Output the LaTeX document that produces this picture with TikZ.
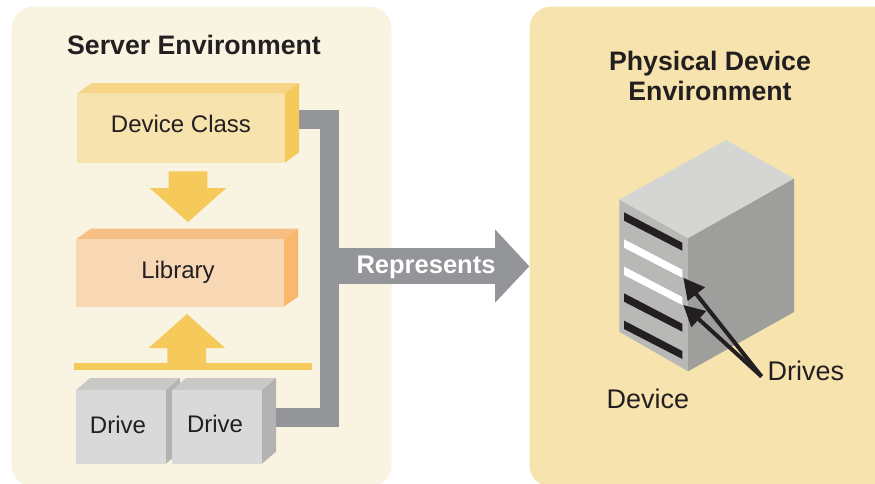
\documentclass[tikz,border=0pt]{standalone}
\usepackage{fontspec}
\setmainfont{Liberation Sans}
\usetikzlibrary{arrows.meta}
\definecolor{ink}{HTML}{231F20}
\definecolor{panelL}{HTML}{F9F3E1}
\definecolor{panelR}{HTML}{F7E3AE}
\definecolor{gold}{HTML}{F5CA5B}
\definecolor{goldTop}{HTML}{F6D588}
\definecolor{libF}{HTML}{F8D7B5}
\definecolor{libT}{HTML}{F6BF85}
\definecolor{libR}{HTML}{F8B96F}
\definecolor{drvF}{HTML}{D9D9D9}
\definecolor{drvT}{HTML}{C8C8C6}
\definecolor{drvR}{HTML}{B3B3B1}
\definecolor{srvT}{HTML}{D5D5D4}
\definecolor{srvL}{HTML}{B8B8B7}
\definecolor{srvR}{HTML}{9E9E9D}
\definecolor{bar}{HTML}{939598}
\tikzset{
  x=1pt,y=-1pt,
  label24/.style={text=ink,inner sep=0pt,anchor=base,font=\fontsize{24}{28}\selectfont},
  label27/.style={text=ink,inner sep=0pt,anchor=base,font=\fontsize{27}{30}\selectfont},
  title/.style={text=ink,inner sep=0pt,font=\bfseries\fontsize{26.7}{30}\selectfont,align=center},
  connector/.style={draw=bar,line width=18.7pt,line join=miter},
  slot/.style={fill=ink},
  lit/.style={fill=white},
  pointer/.style={draw=ink,line width=4pt,-{Triangle[length=21pt,width=21pt]}}
}
\begin{document}
\begin{tikzpicture}
\useasboundingbox (0,0) rectangle (875,483);
\clip (0,0) rectangle (875,483);
% panels
\fill[panelL,rounded corners=22pt] (11.5,6.5) rectangle (391.5,487);
\fill[panelR,rounded corners=22pt] (529.5,6.5) rectangle (900,487);
\node[title] (srvtitle) at (194,45) {Server Environment};
\node[title] (phytitle) at (710,76) {Physical Device\\Environment};

% connector coordinates
\coordinate (classOut) at (299,119.4);
\coordinate (driveOut) at (276,417.3);
\coordinate (bend1) at (329.6,119.4);
\coordinate (bend2) at (329.6,417.3);
\coordinate (tee) at (329.6,266);
\coordinate (repStem) at (496,266);
\draw[connector] (classOut) -- (bend1) -- (bend2) -- (driveOut);
\draw[bar,line width=36.7pt] (tee) -- (repStem);
\fill[bar] (495,229.3) -- (529.3,266.3) -- (495,302.7) -- cycle;
\node[inner sep=0pt,anchor=base,text=white,font=\bfseries\fontsize{25.5}{28}\selectfont] (rep) at (426,273) {Represents};

% Device Class
\fill[goldTop] (77,93.7) -- (91.7,83) -- (299,83) -- (285,93.7) -- cycle;
\fill[gold] (285,93.7) -- (299,83) -- (299,152.3) -- (285,162.7) -- cycle;
\fill[panelR] (77,93.7) rectangle (285,162.7);
\node[label24] (class) at (181,132) {Device Class};

% down arrow
\fill[gold] (168.7,171.3) -- (207.3,171.3) -- (207.3,188) -- (226.3,188) -- (188,222) -- (149.7,188) -- (168.7,188) -- cycle;

% Library
\fill[libT] (76,239.3) -- (90.7,228.7) -- (298,228.7) -- (283.7,239.3) -- cycle;
\fill[libR] (283.7,239.3) -- (298,228.7) -- (298,296.7) -- (283.7,306.7) -- cycle;
\fill[libF] (76,239.3) rectangle (283.7,306.7);
\node[label24] (lib) at (178,278) {Library};

% up arrow and bar
\fill[gold] (187,314) -- (225,348) -- (206,348) -- (206,364) -- (167.3,364) -- (167.3,348) -- (148.7,348) -- cycle;
\fill[gold] (74,363) rectangle (312,370);

% Drives
\fill[drvT] (76,390.3) -- (90,378) -- (180,378) -- (166,390.3) -- cycle;
\fill[drvR] (166,390.3) -- (180,378) -- (180,451.7) -- (166,463.7) -- cycle;
\fill[drvF] (76,390.3) rectangle (166,463.7);
\node[label24] (drive1) at (118,433.5) {Drive};
\fill[drvT] (172,390.3) -- (186,378) -- (276,378) -- (262,390.3) -- cycle;
\fill[drvR] (262,390.3) -- (276,378) -- (276,451.7) -- (262,463.7) -- cycle;
\fill[drvF] (172,390.3) rectangle (262,463.7);
\node[label24] (drive2) at (215,432) {Drive};

% Server box
\fill[srvT] (619.3,199.7) -- (726,140) -- (794,178.7) -- (688,238.3) -- cycle;
\fill[srvL] (619.3,199.7) -- (688,238.3) -- (688,371.3) -- (619.3,331.7) -- cycle;
\fill[srvR] (688,238.3) -- (794,178.7) -- (794,312) -- (688,371.3) -- cycle;
\fill[slot] (624,212.3) -- (682.3,242.7) -- (682.3,250.7) -- (624,220.7) -- cycle;
\fill[lit] (624,239.3) -- (682.3,269.7) -- (682.3,277.7) -- (624,247.7) -- cycle;
\fill[lit] (624,266.6) -- (682.3,297) -- (682.3,305) -- (624,275) -- cycle;
\fill[slot] (624,293.3) -- (682.3,323.7) -- (682.3,331.7) -- (624,301.7) -- cycle;
\fill[slot] (624,320.6) -- (682.3,351) -- (682.3,359) -- (624,329) -- cycle;

\node[label27] (device) at (648,408.5) {Device};
\node[label27,anchor=base west] (drives) at (767.5,380.5) {Drives};
\coordinate (ptrStart) at (761.5,376.5);
\coordinate (tipA) at (683.3,277.7);
\coordinate (tipB) at (683.3,305);
\draw[pointer] (ptrStart) -- (tipA);
\draw[pointer] (ptrStart) -- (tipB);
\end{tikzpicture}
\end{document}
